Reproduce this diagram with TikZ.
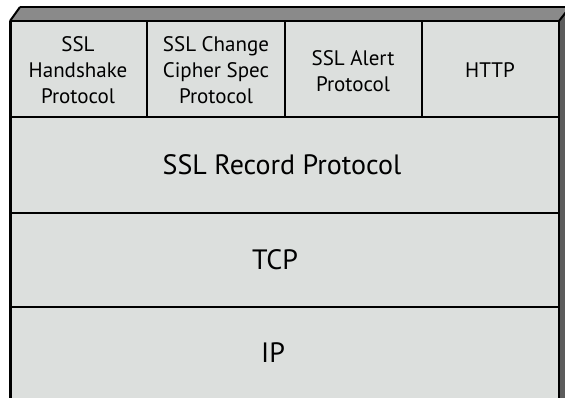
\documentclass[tikz,border=0pt]{standalone}
\usepackage{fontspec}
\setmainfont{PT Sans}
\definecolor{facegrey}{HTML}{DCDFDD}
\definecolor{topgrey}{HTML}{8A8A8A}
\definecolor{sidegrey}{HTML}{5C5C5C}
\begin{document}
\begin{tikzpicture}[x=1pt,y=-1pt,line width=2pt,
  small/.style={align=center,font=\fontsize{21}{26}\selectfont},
  big/.style={font=\fontsize{28}{32}\selectfont}]
\useasboundingbox (0,0) rectangle (565,398);
\clip (0,0) rectangle (565,398);
% box faces
\fill[topgrey] (10,21) -- (20,7) -- (570,7) -- (559,21) -- cycle;
\fill[sidegrey] (559,21) -- (570,7) -- (570,398) -- (559,398) -- cycle;
\fill[facegrey] (10,21) rectangle (559,398);
\draw (20,7) -- (570,7);
\draw (10,21) -- (20,7);
\draw (559,21) -- (570,7);
\draw (10,21) -- (559,21);
\draw[line width=3pt] (10,21) -- (10,398);
\draw (559,21) -- (559,398);
% layers
\draw (10,117) -- (559,117);
\draw (10,213) -- (559,213);
\draw (10,307) -- (559,307);
\draw (147,21) -- (147,117);
\draw (285,21) -- (285,117);
\draw (422,21) -- (422,117);

\node[small] (hand) at (78,70) {SSL\\Handshake\\Protocol};
\node[small] (ccs) at (216,70) {SSL Change\\Cipher Spec\\Protocol};
\node[small] (alert) at (353,71) {SSL Alert\\Protocol};
\node[small] (http) at (490,70) {HTTP};

\node[big] (record) at (282,165) {SSL Record Protocol};
\node[big] (tcp) at (275,260) {TCP};
\node[big] (ip) at (273,353) {IP};
\end{tikzpicture}
\end{document}
